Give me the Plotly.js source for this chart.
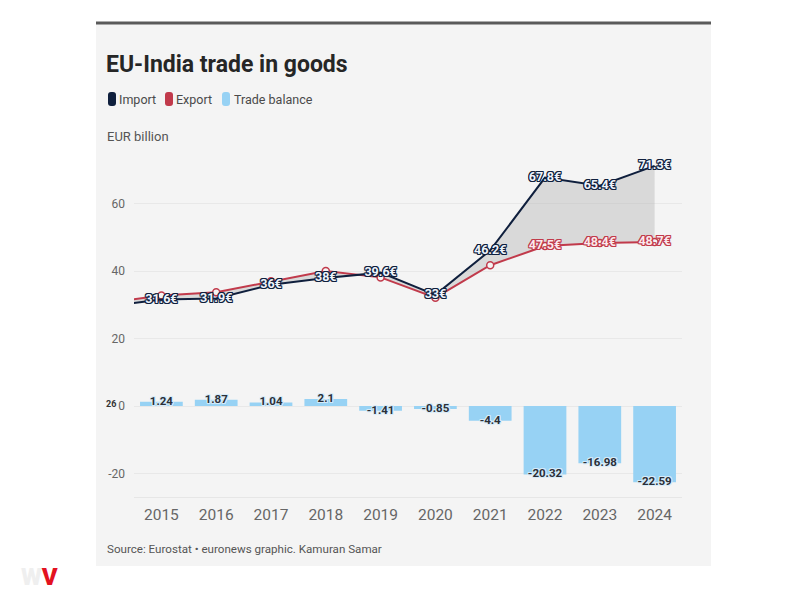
<!DOCTYPE html>
<html>
<head>
<meta charset="utf-8">
<script src="https://cdn.plot.ly/plotly-3.0.1.min.js"></script>
<style>html,body{margin:0;padding:0;background:#fff;}#chart{width:808px;height:594px;}</style>
</head>
<body>
<div id="chart"></div>
<script>
// ---- data ----
const years = [2015, 2016, 2017, 2018, 2019, 2020, 2021, 2022, 2023, 2024];
const importVals = [31.6, 31.9, 36.0, 38.0, 39.6, 33.0, 46.2, 67.8, 65.4, 71.3];
const exportVals = [32.84, 33.77, 37.04, 40.1, 38.19, 32.15, 41.8, 47.48, 48.42, 48.71];
const balanceVals = [1.24, 1.87, 1.04, 2.1, -1.41, -0.85, -4.4, -20.32, -16.98, -22.59];
// line series begin one year earlier (clipped at the chart's left edge)
const lineYears = [2014].concat(years);
const importLine = [29.6].concat(importVals);
const exportLine = [30.6].concat(exportVals);
const importLabels = [''].concat(['31.6€', '31.9€', '36€', '38€', '39.6€', '33€', '46.2€', '67.8€', '65.4€', '71.3€']);
const exportLabels = [''].concat(['', '', '', '', '', '', '', '47.5€', '48.4€', '48.7€']);
const balanceLabels = ['1.24', '1.87', '1.04', '2.1', '-1.41', '-0.85', '-4.4', '-20.32', '-16.98', '-22.59'];
const yTicks = [-20, 0, 20, 40, 60];

// ---- geometry helpers (pixel -> paper) ----
const L = 134, R = 682, T = 150, B = 497;
const W = 808, H = 594;
const px = x => (x - L) / (R - L);
const py = y => (B - y) / (B - T);
function rr(x0, y0, x1, y1, r) {
  const P = (x, y) => px(x) + ',' + py(y);
  return `M${P(x0 + r, y0)} L${P(x1 - r, y0)} Q${P(x1, y0)} ${P(x1, y0 + r)} L${P(x1, y1 - r)} Q${P(x1, y1)} ${P(x1 - r, y1)} L${P(x0 + r, y1)} Q${P(x0, y1)} ${P(x0, y1 - r)} L${P(x0, y0 + r)} Q${P(x0, y0)} ${P(x0 + r, y0)} Z`;
}
function halo(c, d) {
  d = d || 1;
  return `${d}px 0 0 ${c}, -${d}px 0 0 ${c}, 0 ${d}px 0 ${c}, 0 -${d}px 0 ${c}, ${d}px ${d}px 0 ${c}, -${d}px -${d}px 0 ${c}, ${d}px -${d}px 0 ${c}, -${d}px ${d}px 0 ${c}`;
}

const NAVY = '#0f1f3d', RED = '#c13a4b', BLUE = '#97d2f4';
const FONT = 'Roboto, "Noto Sans", sans-serif';

const traces = [
  {
    type: 'bar', x: years, y: balanceVals, width: 0.78,
    marker: { color: BLUE, line: { width: 0 } }, hoverinfo: 'skip', showlegend: false
  },
  {
    type: 'scatter', mode: 'text', x: years, y: balanceVals, text: balanceLabels,
    textposition: 'middle center', cliponaxis: false,
    textfont: { family: FONT, size: 11.5, weight: 700, color: '#2b2f38', shadow: halo('rgba(215,236,250,0.9)', 1) },
    hoverinfo: 'skip', showlegend: false
  },
  {
    type: 'scatter', mode: 'lines+markers+text', x: lineYears, y: exportLine, text: exportLabels,
    textposition: 'middle center',
    line: { color: RED, width: 2 },
    marker: { symbol: 'circle', size: 7, color: '#f4f4f4', line: { color: RED, width: 1.5 } },
    textfont: { family: FONT, size: 12.5, weight: 700, color: '#fbe9ec', shadow: halo(RED, 1) },
    hoverinfo: 'skip', showlegend: false
  },
  {
    type: 'scatter', mode: 'lines+text', x: lineYears, y: importLine, text: importLabels,
    textposition: 'middle center',
    fill: 'tonexty', fillcolor: 'rgba(185,185,185,0.45)',
    line: { color: NAVY, width: 2 },
    textfont: { family: FONT, size: 12.5, weight: 700, color: '#eef3fb', shadow: halo(NAVY, 1) },
    hoverinfo: 'skip', showlegend: false
  }
];

const shapes = [
  { type: 'rect', xref: 'paper', yref: 'paper', x0: px(96), x1: px(711), y0: py(566), y1: py(23), fillcolor: '#f4f4f4', line: { width: 0 }, layer: 'below' },
  { type: 'line', xref: 'paper', yref: 'paper', x0: px(96), x1: px(711), y0: py(23), y1: py(23), line: { color: '#5a5a5a', width: 3 }, layer: 'below' },
  { type: 'path', xref: 'paper', yref: 'paper', path: rr(108, 92, 116, 106, 3), fillcolor: NAVY, line: { width: 0 } },
  { type: 'path', xref: 'paper', yref: 'paper', path: rr(165, 92, 173, 106, 3), fillcolor: RED, line: { width: 0 } },
  { type: 'path', xref: 'paper', yref: 'paper', path: rr(222, 92, 230, 106, 3), fillcolor: BLUE, line: { width: 0 } }
];

function ann(text, x, y, size, color, extra) {
  return Object.assign({
    text: text, xref: 'paper', yref: 'paper', x: px(x), y: py(y), xanchor: 'left', yanchor: 'middle',
    showarrow: false, font: { family: FONT, size: size, color: color }
  }, extra || {});
}

const annotations = [
  ann('EU-India trade in goods', 104, 65, 23, '#262626', { font: { family: FONT, size: 23, color: '#262626', weight: 700 } }),
  ann('Import', 117, 99, 12.5, '#4a4a4a'),
  ann('Export', 174, 99, 12.5, '#4a4a4a'),
  ann('Trade balance', 232, 99, 12.5, '#4a4a4a'),
  ann('EUR billion', 105, 136, 13, '#555'),
  ann('Source: Eurostat • euronews graphic. Kamuran Samar', 105, 549, 11.6, '#555'),
  ann('26', 104, 404, 9, '#333', { font: { family: FONT, size: 9, color: '#333', weight: 700 } }),
  ann('<span style="color:#efefef">W</span><span style="color:#e3121f">V</span>', 20, 592, 24, '#e3121f',
    { yanchor: 'bottom', borderpad: 0, font: { family: FONT, size: 24, color: '#e3121f', weight: 900 } })
];

const layout = {
  width: W, height: H,
  margin: { l: L, r: W - R, t: T, b: H - B, pad: 0 },
  paper_bgcolor: '#ffffff', plot_bgcolor: 'rgba(0,0,0,0)',
  showlegend: false,
  font: { family: FONT },
  xaxis: {
    range: [2014.5, 2024.5], tickvals: years, ticktext: years.map(String),
    showgrid: false, zeroline: false, showline: true, linecolor: '#e6e6e6', linewidth: 1,
    ticks: '', ticklabelstandoff: 3,
    tickfont: { family: FONT, size: 15.5, color: '#666' }, fixedrange: true
  },
  yaxis: {
    range: [-27, 76], tickvals: yTicks, ticktext: yTicks.map(String),
    showgrid: true, gridcolor: '#e8e8e8', gridwidth: 1, zeroline: false, showline: false,
    ticks: '', ticklabelstandoff: 8,
    tickfont: { family: FONT, size: 12, color: '#666' }, fixedrange: true
  },
  bargap: 0.2,
  shapes: shapes,
  annotations: annotations
};

Plotly.newPlot('chart', traces, layout, { displayModeBar: false, staticPlot: true });
</script>
</body>
</html>
